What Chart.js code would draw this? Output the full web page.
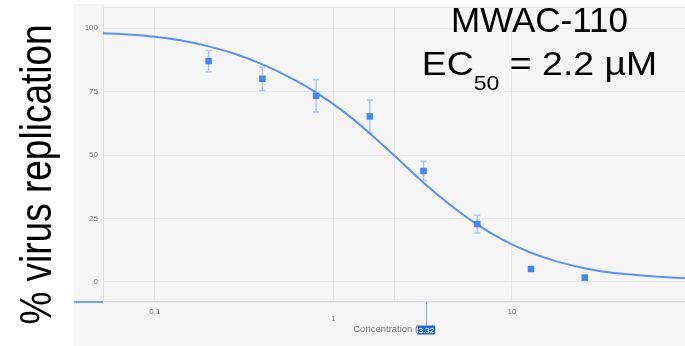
<!DOCTYPE html>
<html>
<head>
<meta charset="utf-8">
<script src="https://cdn.jsdelivr.net/npm/chart.js@4.4.1/dist/chart.umd.min.js"></script>
<style>
  html, body { margin: 0; padding: 0; background: #fff; }
  canvas { display: block; }
</style>
</head>
<body>
<canvas id="chart" width="685" height="346"></canvas>
<script>
// doses (µM), mean % replication and error
const doses = [0.2, 0.4, 0.8, 1.6, 3.2, 6.4, 12.8, 25.6];
const replication = [87.0, 80.0, 73.3, 65.2, 43.7, 22.8, 5.1, 1.7];
const errors = [4.2, 4.6, 6.4, 6.5, 3.8, 3.5, 0, 0];

// fitted dose-response curve
const fitX = [0.05, 0.071, 0.1, 0.141, 0.2, 0.282, 0.398, 0.562, 0.794, 1.122, 1.585, 2.239,
  3.162, 4.467, 6.31, 8.913, 12.59, 17.78, 25.12, 35.48, 50.12, 70.79, 100];
const fitY = [98.0, 97.5, 96.6, 95.1, 92.8, 89.8, 85.8, 80.8, 74.8, 67.5, 58.8, 49.2,
  39.4, 30.6, 22.9, 16.6, 11.7, 8.1, 5.5, 3.7, 2.7, 1.9, 1.4];

const ec50 = 2.2;
const xTicks = [0.1, 1, 10];
const yTicks = [0, 25, 50, 75, 100];
const cursorX = 3.32;

const FONT = '"Liberation Sans", Arial, sans-serif';
const blue = '#4285f4';

const decor = {
  id: 'decor',
  beforeDraw(chart) {
    const { ctx, width, height } = chart;
    ctx.save();
    ctx.fillStyle = '#f5f5f5';
    ctx.fillRect(74, 4, width - 74, height - 4);
    ctx.restore();
  },
  beforeDatasetsDraw(chart) {
    const { ctx, scales: { x, y } } = chart;
    ctx.save();
    ctx.strokeStyle = '#a8c6f6';
    ctx.lineWidth = 1.5;
    doses.forEach((d, i) => {
      if (!errors[i]) return;
      const px = x.getPixelForValue(d);
      const top = y.getPixelForValue(replication[i] + errors[i]);
      const bot = y.getPixelForValue(replication[i] - errors[i]);
      ctx.beginPath();
      ctx.moveTo(px, top); ctx.lineTo(px, bot);
      ctx.moveTo(px - 3, top); ctx.lineTo(px + 3, top);
      ctx.moveTo(px - 3, bot); ctx.lineTo(px + 3, bot);
      ctx.stroke();
    });
    ctx.restore();
  },
  afterDraw(chart) {
    const { ctx, chartArea: a, scales: { x } } = chart;
    ctx.save();

    // top edge of plot frame
    ctx.strokeStyle = '#e4e4e4';
    ctx.lineWidth = 1;
    ctx.beginPath();
    ctx.moveTo(a.left, a.top + 0.5); ctx.lineTo(a.right, a.top + 0.5);
    ctx.stroke();

    // crosshair leftovers
    ctx.strokeStyle = '#4a86e8';
    ctx.lineWidth = 1.5;
    ctx.beginPath();
    ctx.moveTo(74, a.bottom); ctx.lineTo(a.left, a.bottom);
    ctx.stroke();

    const cx = x.getPixelForValue(cursorX);
    ctx.strokeStyle = '#7aa7ee';
    ctx.lineWidth = 1;
    ctx.beginPath();
    ctx.moveTo(cx, a.bottom); ctx.lineTo(cx, 326);
    ctx.stroke();
    ctx.font = '8px ' + FONT;
    const label = cursorX.toFixed(2);
    const w = ctx.measureText(label).width + 2;
    ctx.fillStyle = '#2c6cc4';
    ctx.fillRect(cx - w / 2, 325.5, w, 9);
    ctx.fillStyle = '#fff';
    ctx.textAlign = 'center';
    ctx.textBaseline = 'middle';
    ctx.fillText(label, cx, 330.5);

    // big y label
    ctx.save();
    ctx.translate(51, 174.5);
    ctx.rotate(-Math.PI / 2);
    ctx.scale(1, 1.2);
    ctx.fillStyle = '#000';
    ctx.font = '37px ' + FONT;
    ctx.textAlign = 'center';
    ctx.textBaseline = 'alphabetic';
    ctx.fillText('% virus replication', 0, 0);
    ctx.restore();

    // compound annotation
    const mid = 539.5;
    ctx.fillStyle = '#000';
    ctx.textBaseline = 'alphabetic';
    ctx.textAlign = 'center';
    ctx.font = '35px ' + FONT;
    ctx.fillText('MWAC-110', mid, 32);

    ctx.save();
    ctx.translate(mid, 0);
    ctx.scale(1.1, 1);
    ctx.textAlign = 'left';
    const big = '34px ' + FONT, small = '21px ' + FONT;
    ctx.font = big;
    const wEC = ctx.measureText('EC').width;
    const wRest = ctx.measureText(' = 2.2 µM').width;
    ctx.font = small;
    const wSub = ctx.measureText('50').width;
    let sx = -(wEC + wSub + wRest) / 2;
    ctx.font = big;
    ctx.fillText('EC', sx, 75);
    sx += wEC;
    ctx.font = small;
    ctx.fillText('50', sx, 90);
    sx += wSub;
    ctx.font = big;
    ctx.fillText(' = 2.2 µM', sx, 75);
    ctx.restore();

    ctx.restore();
  }
};

new Chart(document.getElementById('chart'), {
  type: 'line',
  data: {
    datasets: [
      {
        data: doses.map((d, i) => ({ x: d, y: replication[i] })),
        showLine: false,
        pointStyle: 'rect',
        pointRadius: 4.6,
        pointBackgroundColor: blue,
        pointBorderColor: blue,
        pointBorderWidth: 0,
        order: 1
      },
      {
        data: fitX.map((v, i) => ({ x: v, y: fitY[i] })),
        borderColor: '#5b91f2',
        borderWidth: 2,
        pointRadius: 0,
        cubicInterpolationMode: 'monotone',
        fill: false,
        order: 2
      },
      {
        data: [{ x: ec50, y: -20 }, { x: ec50, y: 120 }],
        borderColor: '#e6e6e6',
        borderWidth: 1,
        pointRadius: 0,
        order: 3
      }
    ]
  },
  options: {
    responsive: false,
    animation: false,
    events: [],
    layout: { autoPadding: false, padding: { left: 74, top: 7, right: 0, bottom: 0 } },
    plugins: { legend: { display: false }, tooltip: { enabled: false } },
    scales: {
      x: {
        type: 'logarithmic',
        min: 0.0512,
        max: 93.3,
        afterBuildTicks: s => { s.ticks = xTicks.map(v => ({ value: v })); },
        afterFit: s => { s.height = 44; s.paddingLeft = 0; s.paddingRight = 0; },
        grid: { color: '#e8e8e8', drawTicks: false },
        border: { color: '#dcdcdc', width: 1.5 },
        ticks: {
          padding: 6,
          autoSkip: false,
          maxRotation: 0,
          color: '#777',
          font: { family: FONT, size: 8, lineHeight: 0.9 },
          callback: v => (v === 1 ? ['', '1'] : String(v))
        },
        title: {
          display: true,
          text: 'Concentration (µM)',
          color: '#777',
          font: { family: FONT, size: 9.5 },
          padding: { top: 4, bottom: 11 }
        }
      },
      y: {
        min: -7.9,
        max: 108.3,
        afterBuildTicks: s => { s.ticks = yTicks.map(v => ({ value: v })); },
        afterFit: s => { s.width = 29; s.paddingTop = 0; s.paddingBottom = 0; },
        grid: { color: '#e8e8e8', drawTicks: false },
        border: { color: '#e0e0e0', width: 1 },
        ticks: {
          padding: 5,
          color: '#777',
          font: { family: FONT, size: 8 }
        }
      }
    }
  },
  plugins: [decor]
});
</script>
</body>
</html>
